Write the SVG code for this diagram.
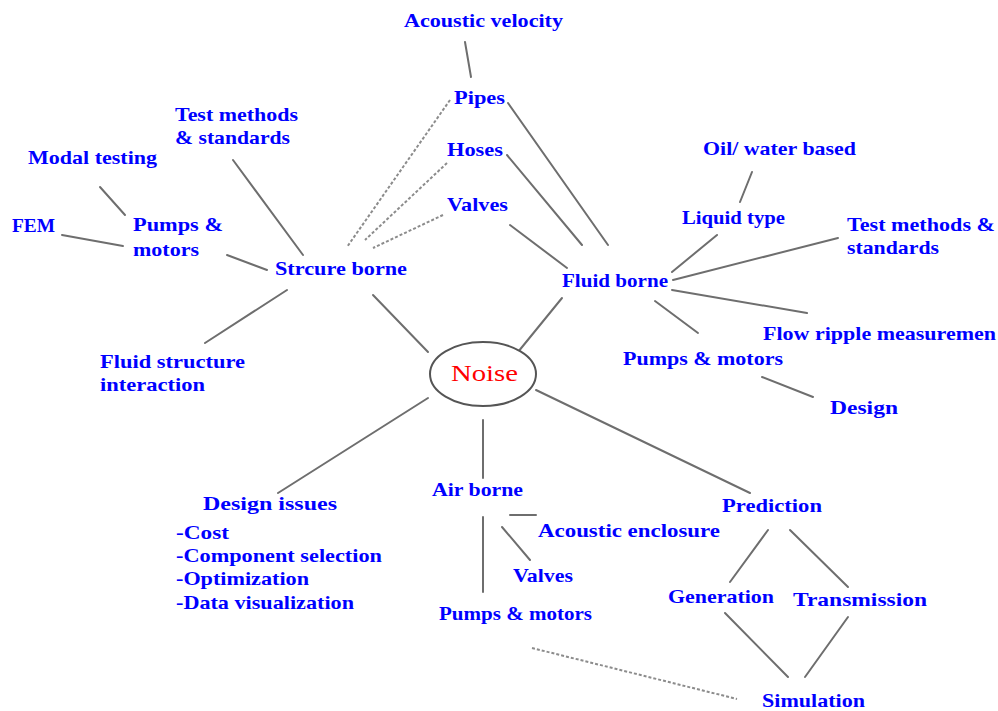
<svg xmlns="http://www.w3.org/2000/svg" width="998" height="711" viewBox="0 0 998 711">
<style>
.t{font-family:"Liberation Serif","Times New Roman",serif;font-weight:bold;font-size:19px;fill:#0000ff}
.n{font-family:"Liberation Serif","Times New Roman",serif;font-size:23px;fill:#ff0000}
.c{stroke:#6e6e6e;stroke-width:2;fill:none;stroke-linecap:round}
.d{stroke:#8c8c8c;stroke-width:2;fill:none;stroke-dasharray:3 2}
</style>
<rect width="998" height="711" fill="#ffffff"/>
<g id="connectors">
<line class="c" x1="465" y1="42" x2="471" y2="77"/>
<line class="d" x1="450" y1="100" x2="347" y2="247"/>
<line class="d" x1="447" y1="163" x2="365" y2="240"/>
<line class="d" x1="443" y1="215" x2="373" y2="248"/>
<line class="c" x1="508" y1="103" x2="608" y2="245"/>
<line class="c" x1="507" y1="155" x2="582" y2="245"/>
<line class="c" x1="510" y1="225" x2="567" y2="268"/>
<line class="c" x1="233" y1="160" x2="303" y2="255"/>
<line class="c" x1="100" y1="187" x2="125" y2="215"/>
<line class="c" x1="62" y1="235" x2="123" y2="246"/>
<line class="c" x1="227" y1="255" x2="267" y2="270"/>
<line class="c" x1="287" y1="290" x2="205" y2="343"/>
<line class="c" x1="373" y1="295" x2="428" y2="352"/>
<line class="c" x1="562" y1="298" x2="518" y2="352"/>
<line class="c" x1="672" y1="272" x2="717" y2="235"/>
<line class="c" x1="740" y1="202" x2="752" y2="172"/>
<line class="c" x1="673" y1="280" x2="838" y2="238"/>
<line class="c" x1="672" y1="290" x2="807" y2="313"/>
<line class="c" x1="655" y1="301" x2="698" y2="333"/>
<line class="c" x1="762" y1="377" x2="813" y2="397"/>
<line class="c" x1="428" y1="398" x2="278" y2="493"/>
<line class="c" x1="483" y1="420" x2="483" y2="478"/>
<line class="c" x1="536" y1="390" x2="750" y2="493"/>
<line class="c" x1="483" y1="517" x2="483" y2="592"/>
<line class="c" x1="510" y1="515" x2="536" y2="515" stroke-width="3"/>
<line class="c" x1="502" y1="527" x2="530" y2="560"/>
<line class="d" x1="532" y1="648" x2="737" y2="699"/>
<line class="c" x1="768" y1="530" x2="730" y2="582"/>
<line class="c" x1="790" y1="530" x2="848" y2="587"/>
<line class="c" x1="725" y1="613" x2="788" y2="677"/>
<line class="c" x1="848" y1="617" x2="805" y2="677"/>
</g>
<g id="noise"><ellipse cx="483" cy="374" rx="53" ry="32" fill="#ffffff" stroke="#555555" stroke-width="2"/><text class="n" x="451" y="381" textLength="67" lengthAdjust="spacingAndGlyphs">Noise</text></g>
<g id="acoustic-velocity"><text class="t" x="404" y="27" textLength="159" lengthAdjust="spacingAndGlyphs">Acoustic velocity</text></g>
<g id="pipes"><text class="t" x="454" y="104" textLength="51" lengthAdjust="spacingAndGlyphs">Pipes</text></g>
<g id="hoses"><text class="t" x="447" y="156" textLength="56" lengthAdjust="spacingAndGlyphs">Hoses</text></g>
<g id="valves-top"><text class="t" x="447" y="211" textLength="61" lengthAdjust="spacingAndGlyphs">Valves</text></g>
<g id="test-methods-left"><text class="t" x="175" y="121" textLength="123" lengthAdjust="spacingAndGlyphs">Test methods</text><text class="t" x="175" y="144" textLength="115" lengthAdjust="spacingAndGlyphs">&amp; standards</text></g>
<g id="modal-testing"><text class="t" x="28" y="164" textLength="129" lengthAdjust="spacingAndGlyphs">Modal testing</text></g>
<g id="fem"><text class="t" x="12" y="232" textLength="43" lengthAdjust="spacingAndGlyphs">FEM</text></g>
<g id="pumps-motors-left"><text class="t" x="133" y="231" textLength="90" lengthAdjust="spacingAndGlyphs">Pumps &amp;</text><text class="t" x="133" y="256" textLength="66" lengthAdjust="spacingAndGlyphs">motors</text></g>
<g id="strcure-borne"><text class="t" x="275" y="275" textLength="132" lengthAdjust="spacingAndGlyphs">Strcure borne</text></g>
<g id="fluid-structure"><text class="t" x="100" y="368" textLength="145" lengthAdjust="spacingAndGlyphs">Fluid structure</text><text class="t" x="100" y="391" textLength="105" lengthAdjust="spacingAndGlyphs">interaction</text></g>
<g id="fluid-borne"><text class="t" x="562" y="287" textLength="106" lengthAdjust="spacingAndGlyphs">Fluid borne</text></g>
<g id="oil-water"><text class="t" x="703" y="155" textLength="153" lengthAdjust="spacingAndGlyphs">Oil/ water based</text></g>
<g id="liquid-type"><text class="t" x="682" y="224" textLength="103" lengthAdjust="spacingAndGlyphs">Liquid type</text></g>
<g id="test-methods-right"><text class="t" x="847" y="231" textLength="148" lengthAdjust="spacingAndGlyphs">Test methods &amp;</text><text class="t" x="847" y="254" textLength="92" lengthAdjust="spacingAndGlyphs">standards</text></g>
<g id="flow-ripple"><text class="t" x="763" y="340" textLength="233" lengthAdjust="spacingAndGlyphs">Flow ripple measuremen</text></g>
<g id="pumps-motors-fluid"><text class="t" x="623" y="365" textLength="160" lengthAdjust="spacingAndGlyphs">Pumps &amp; motors</text></g>
<g id="design"><text class="t" x="830" y="414" textLength="68" lengthAdjust="spacingAndGlyphs">Design</text></g>
<g id="design-issues"><text class="t" x="203" y="510" textLength="134" lengthAdjust="spacingAndGlyphs">Design issues</text>
<text class="t" x="176" y="539" textLength="53" lengthAdjust="spacingAndGlyphs">-Cost</text>
<text class="t" x="176" y="562" textLength="206" lengthAdjust="spacingAndGlyphs">-Component selection</text>
<text class="t" x="176" y="585" textLength="133" lengthAdjust="spacingAndGlyphs">-Optimization</text>
<text class="t" x="176" y="609" textLength="178" lengthAdjust="spacingAndGlyphs">-Data visualization</text></g>
<g id="air-borne"><text class="t" x="432" y="496" textLength="91" lengthAdjust="spacingAndGlyphs">Air borne</text></g>
<g id="acoustic-enclosure"><text class="t" x="538" y="537" textLength="182" lengthAdjust="spacingAndGlyphs">Acoustic enclosure</text></g>
<g id="valves-air"><text class="t" x="513" y="582" textLength="60" lengthAdjust="spacingAndGlyphs">Valves</text></g>
<g id="pumps-motors-air"><text class="t" x="439" y="620" textLength="153" lengthAdjust="spacingAndGlyphs">Pumps &amp; motors</text></g>
<g id="prediction"><text class="t" x="722" y="512" textLength="100" lengthAdjust="spacingAndGlyphs">Prediction</text></g>
<g id="generation"><text class="t" x="668" y="603" textLength="106" lengthAdjust="spacingAndGlyphs">Generation</text></g>
<g id="transmission"><text class="t" x="793" y="606" textLength="134" lengthAdjust="spacingAndGlyphs">Transmission</text></g>
<g id="simulation"><text class="t" x="762" y="707" textLength="103" lengthAdjust="spacingAndGlyphs">Simulation</text></g>
</svg>
